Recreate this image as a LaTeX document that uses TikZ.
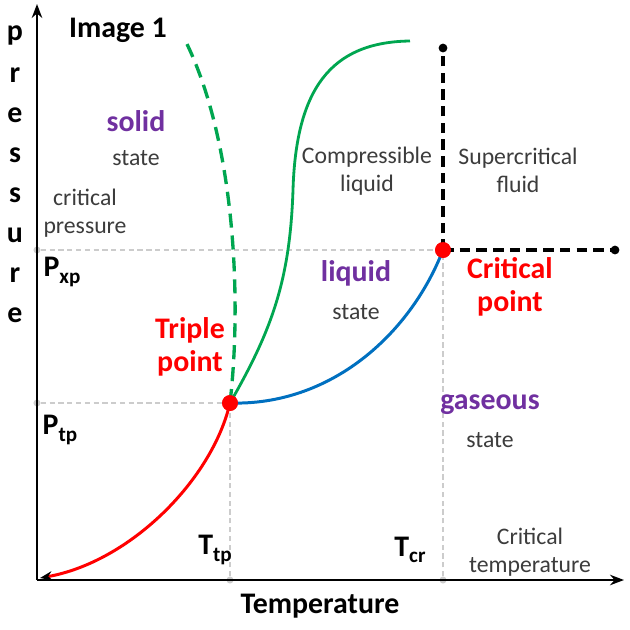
\documentclass[tikz,border=0pt]{standalone}
\usepackage{fontspec}
\setmainfont{Carlito}
\usetikzlibrary{arrows.meta}
\definecolor{phred}{RGB}{255,0,0}
\definecolor{phgreen}{RGB}{0,166,80}
\definecolor{phblue}{RGB}{0,112,192}
\definecolor{phpurple}{RGB}{112,48,160}
\definecolor{txtgray}{RGB}{60,60,60}
\newcommand{\sub}[1]{\raisebox{-0.45ex}{\fontsize{12}{12}\selectfont #1}}
\tikzset{
  phase/.style={font=\fontsize{17}{19}\selectfont\bfseries, align=center, inner sep=0pt},
  note/.style={font=\fontsize{13.5}{16}\selectfont, text=txtgray, align=center, inner sep=0pt},
  guide/.style={gray!40, densely dashed, line width=0.6pt},
  bigdot/.style={circle, fill=phred, inner sep=0pt, minimum size=9pt},
  enddot/.style={circle, fill=black, inner sep=0pt, minimum size=5pt},
  tick/.style={circle, fill=gray!40, inner sep=0pt, minimum size=4pt},
  border/.style={line width=1.8pt, dash pattern=on 6pt off 3.5pt},
}
\begin{document}
\begin{tikzpicture}[x=0.02cm, y=-0.02cm, >=Stealth]
  \useasboundingbox[fill=white] (0,0) rectangle (630,630);
  % key points
  \coordinate (O) at (37,580);
  \coordinate (ytop) at (37,4);
  \coordinate (xend) at (624,580);
  \node[tick] (ptp) at (37,403) {};
  \node[tick] (pcr) at (37,250) {};
  \node[tick] (ttp) at (230,580) {};
  \node[tick] (tcr) at (443,580) {};
  % guides
  \draw[guide] (pcr) -- (443,250);
  \draw[guide] (ptp) -- (230,403);
  \draw[guide] (ttp) -- (230,403);
  \draw[guide] (tcr) -- (443,250);
  % axes
  \draw[line width=1.1pt, ->] (O) -- (ytop);
  \draw[line width=1.1pt, ->] (O) -- (xend);
  % phase boundaries
  \node[bigdot] (TP) at (230,403) {};
  \node[bigdot] (CP) at (443,250) {};
  \draw[phred, line width=1.7pt, {Stealth[black, length=7pt]}-] (40,578) .. controls (130,562) and (212,480) .. (TP.center);
  \draw[phblue, line width=1.7pt] (TP.center) .. controls (330,406) and (410,335) .. (CP.center);
  \draw[phgreen, line width=1.6pt] (TP.center) .. controls (272,330) and (290,280) .. (293,190)
    .. controls (296,90) and (330,42) .. (410,41);
  \draw[phgreen, line width=1.9pt, dash pattern=on 8pt off 4.5pt] (TP.center) .. controls (242,300) and (235,140) .. (185,40);
  % supercritical borders
  \node[enddot] (vtop) at (443,48) {};
  \node[enddot] (hend) at (615,250) {};
  \draw[border] (CP.center) -- (vtop.center);
  \draw[border] (CP.center) -- (hend.center);
  \node[bigdot] at (TP) {};
  \node[bigdot] at (CP) {};
  % axis labels
  \foreach \l [count=\i] in {p,r,e,s,s,u,r,e}
    \node[phase] (ylab\i) at (15,{35+40*(\i-1)}) {\l};
  \node[phase] (xlab) at (320,606) {Temperature};
  \node[phase] (title) at (118,30) {Image 1};
  % regions
  \node[phase, text=phpurple] (solid) at (136,121) {solid};
  \node[note] (solidst) at (136,158) {state};
  \node[note] (critp) at (85,213) {critical\\pressure};
  \node[phase] (Pxp) at (62,272) {P\sub{xp}};
  \node[phase] (Ptp) at (60,430) {P\sub{tp}};
  \node[phase, text=phred] (triple) at (190,347) {Triple\\point};
  \node[note] (compr) at (367,171) {Compressible\\liquid};
  \node[note] (super) at (518,170) {Supercritical\\fluid};
  \node[phase, text=phpurple] (liq) at (356,273) {liquid};
  \node[note] (liqst) at (356,312) {state};
  \node[phase, text=phred] (crit) at (510,287) {Critical\\point};
  \node[phase, text=phpurple] (gas) at (490,405) {gaseous};
  \node[note] (gasst) at (490,440) {state};
  \node[phase] (Ttp) at (215,550) {T\sub{tp}};
  \node[phase] (Tcr) at (410,550) {T\sub{cr}};
  \node[note] (critt) at (530,552) {Critical\\temperature};
\end{tikzpicture}
\end{document}
